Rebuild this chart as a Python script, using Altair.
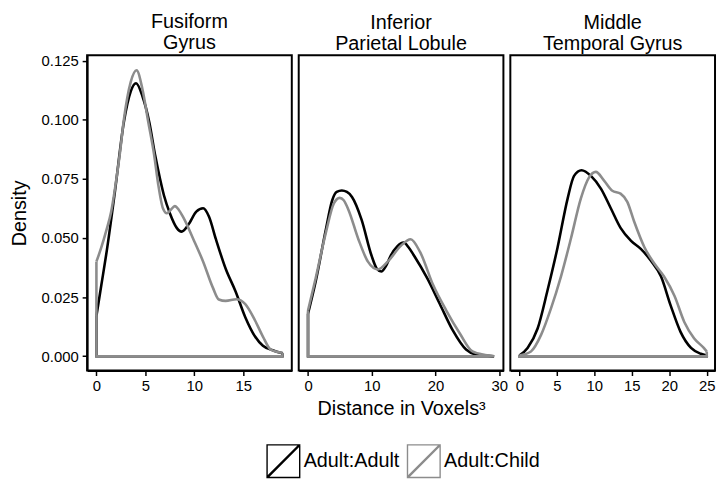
import altair as alt
import pandas as pd

# ---------------- data ----------------
regions = ["Fusiform Gyrus", "Inferior Parietal Lobule", "Middle Temporal Gyrus"]
region_titles = [["Fusiform", "Gyrus"], ["Inferior", "Parietal Lobule"], ["Middle", "Temporal Gyrus"]]
groups = ["Adult:Adult", "Adult:Child"]
colors = ["#000000", "#8c8c8c"]

# Fusiform Gyrus
fg_aa_x = [0, 0.5, 1.0, 1.9, 2.8, 3.5, 4.05, 4.7, 5.4, 6.0, 6.5, 6.9, 7.5, 8.2, 8.7, 9.4,
           10.2, 10.9, 11.5, 12.2, 13.2, 14.2, 15.2, 16.2, 17.0, 18.0, 19.0]
fg_aa_y = [0.017, 0.030, 0.043, 0.070, 0.099, 0.112, 0.1155, 0.110, 0.099, 0.085, 0.075, 0.068,
           0.0605, 0.0543, 0.0527, 0.0557, 0.0612, 0.0626, 0.059, 0.0495, 0.037, 0.0275, 0.0165,
           0.0083, 0.0044, 0.0025, 0.0012]
fg_ac_x = [0, 0.5, 1.0, 1.5, 1.9, 2.4, 2.8, 3.5, 4.1, 4.7, 5.3, 5.9, 6.3, 6.8, 7.2, 7.6, 8.0,
           8.4, 8.9, 9.9, 10.9, 11.9, 12.5, 13.2, 14.3, 15.2, 16.2, 17.0, 17.8, 19.0]
fg_ac_y = [0.040, 0.046, 0.053, 0.061, 0.071, 0.086, 0.100, 0.116, 0.121, 0.113, 0.099, 0.085,
           0.073, 0.0625, 0.0605, 0.062, 0.0635, 0.062, 0.0585, 0.0495, 0.040, 0.0289, 0.024,
           0.0234, 0.0241, 0.022, 0.0151, 0.0083, 0.0028, 0.0014]

# Inferior Parietal Lobule
ip_aa_x = [0, 1.2, 2.8, 3.8, 4.5, 5.3, 6.1, 6.9, 8.4, 9.95, 10.8, 11.5, 12.2, 13.0, 14.0, 15.0,
           15.8, 16.6, 18.7, 20.7, 22.7, 24.8, 26.3, 27.5, 29.2]
ip_aa_y = [0.018, 0.0316, 0.0536, 0.066, 0.0695, 0.0701, 0.0695, 0.0674, 0.0578, 0.0427, 0.037,
           0.0358, 0.038, 0.0427, 0.0465, 0.0481, 0.046, 0.0427, 0.033, 0.022, 0.011, 0.0028,
           0.0007, 0.0003, 0.0]
ip_ac_x = [0, 1.2, 2.8, 4.05, 4.97, 5.6, 6.35, 7.9, 9.4, 10.97, 12.5, 14.6, 16.1, 17.6, 19.6,
           21.7, 23.8, 25.8, 27.8, 29.2]
ip_ac_y = [0.0193, 0.033, 0.0523, 0.0646, 0.067, 0.066, 0.0619, 0.0495, 0.040, 0.0367, 0.040,
           0.0468, 0.0495, 0.044, 0.0303, 0.0193, 0.0097, 0.002, 0.0005, 0.0]

# Middle Temporal Gyrus
mt_aa_x = [0, 1.1, 2.44, 3.77, 5.1, 6.44, 7.3, 8.3, 9.55, 10.9, 12.2, 13.5, 14.9, 16.2, 17.5,
           18.9, 20.2, 21.5, 22.9, 24.2, 25.0]
mt_aa_y = [0.0003, 0.0035, 0.0117, 0.028, 0.046, 0.0667, 0.0763, 0.0787, 0.0763, 0.0708, 0.0626,
           0.0543, 0.0488, 0.0454, 0.0406, 0.0337, 0.0213, 0.0103, 0.0035, 0.001, 0.0003]
mt_ac_x = [0, 1.55, 2.9, 4.2, 5.55, 6.9, 8.2, 9.3, 10.2, 11.3, 12.4, 13.5, 14.4, 15.3, 16.7,
           18.0, 19.3, 20.7, 22.0, 23.3, 24.6, 25.0]
mt_ac_y = [0.0003, 0.002, 0.009, 0.02, 0.0337, 0.050, 0.0667, 0.0757, 0.078, 0.0743, 0.070,
           0.0688, 0.0653, 0.0571, 0.046, 0.0392, 0.0337, 0.0255, 0.0145, 0.0076, 0.0035, 0.002]

x_domains = [[-0.95, 19.95], [-1.46, 30.66], [-1.2, 26.1]]
x_ticks = [[0, 5, 10, 15], [0, 10, 20, 30], [0, 5, 10, 15, 20, 25]]
y_domain = [-0.0061, 0.1274]
y_ticks = [0, 0.025, 0.05, 0.075, 0.1, 0.125]

series = {
    regions[0]: [(fg_aa_x, fg_aa_y), (fg_ac_x, fg_ac_y)],
    regions[1]: [(ip_aa_x, ip_aa_y), (ip_ac_x, ip_ac_y)],
    regions[2]: [(mt_aa_x, mt_aa_y), (mt_ac_x, mt_ac_y)],
}

# ---------------- tables ----------------
curve_rows, close_rows = [], []
for r in regions:
    for g, (xs, ys) in zip(groups, series[r]):
        for i, (xv, yv) in enumerate(zip(xs, ys)):
            curve_rows.append({"region": r, "group": g, "x": xv, "y": yv, "o": i})
        # outline closing the density polygon (down to zero, along baseline, back up)
        pts = [(xs[0], ys[0]), (xs[0], 0.0), (xs[-1], 0.0), (xs[-1], ys[-1])]
        for i, (xv, yv) in enumerate(pts):
            close_rows.append({"region": r, "group": g, "x": xv, "y": yv, "o": i})
curves = pd.DataFrame(curve_rows)
closes = pd.DataFrame(close_rows)

FONT = "Liberation Sans"
legend_path = ("M-1,-1H1V1H-1Z "
               "M-1,0.955L0.955,-1L1,-1L1,-0.955L-0.955,1L-1,1Z")

color = alt.Color(
    "group:N",
    scale=alt.Scale(domain=groups, range=colors),
    legend=alt.Legend(
        title=None, orient="none", direction="horizontal",
        legendX=181, legendY=393,
        symbolType=legend_path, symbolSize=1089, symbolStrokeWidth=1.4,
        labelFontSize=20, labelFont=FONT, labelColor="black", labelOffset=3,
        columnPadding=5, labelLimit=300,
    ),
)

panels = []
for k, r in enumerate(regions):
    x_axis = alt.Axis(values=x_ticks[k], title="Distance in Voxels³" if k == 1 else None)
    y_axis = alt.Axis(values=y_ticks, format=".3f", title="Density") if k == 0 else None
    xenc = alt.X("x:Q", scale=alt.Scale(domain=x_domains[k], nice=False, zero=False), axis=x_axis)
    yenc = alt.Y("y:Q", scale=alt.Scale(domain=y_domain, nice=False, zero=False), axis=y_axis)
    curve = alt.Chart(curves[curves.region == r]).mark_line(
        interpolate="monotone", strokeWidth=2.6
    ).encode(x=xenc, y=yenc, color=color, order="o:Q")
    close = alt.Chart(closes[closes.region == r]).mark_line(
        interpolate="linear", strokeWidth=2.6
    ).encode(x=xenc, y=yenc, color=color, order="o:Q")
    panels.append(
        alt.layer(curve, close).properties(
            width=207, height=319,
            title=alt.TitleParams(region_titles[k]),
        )
    )

chart = (
    alt.hconcat(*panels, spacing=7, bounds="flush")
    .resolve_scale(x="independent")
    .properties(padding={"left": 0, "top": 0, "right": 0, "bottom": 0})
    .configure_view(stroke="black", strokeWidth=2)
    .configure_axis(
        grid=False, domainColor="black", domainWidth=2, tickColor="black", tickWidth=1.5,
        tickSize=5, labelFontSize=15, labelFont=FONT, labelColor="black", labelPadding=3,
        titleFontSize=20, titleFont=FONT, titleFontWeight="normal", titleColor="black",
    )
    .configure_axisY(titlePadding=12, labelPadding=4)
    .configure_axisX(titlePadding=5)
    .configure_title(fontSize=20, font=FONT, fontWeight="normal", color="black",
                     anchor="middle", offset=1, lineHeight=21)
)

chart.save("out.html", embed_options={"renderer": "svg", "actions": False})
